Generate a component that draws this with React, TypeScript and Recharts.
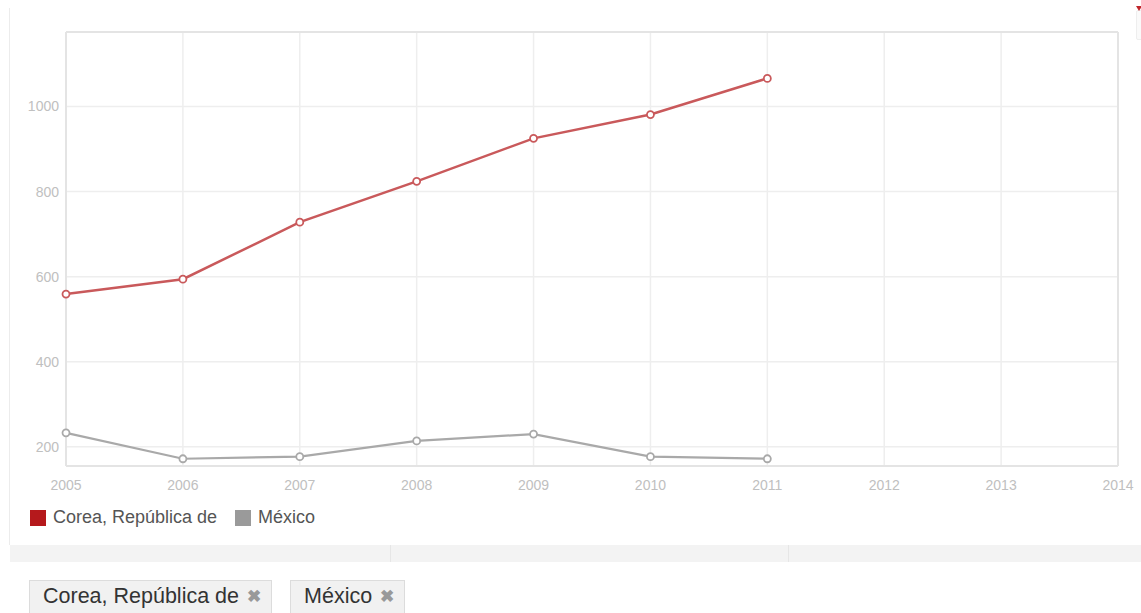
import React from 'react';
import {
  LineChart,
  Line,
  XAxis,
  YAxis,
  CartesianGrid,
  ReferenceLine,
} from 'recharts';

// Years on the x axis (ticks run past the data to 2014)
const years = [2005, 2006, 2007, 2008, 2009, 2010, 2011];
const yearTicks = [2005, 2006, 2007, 2008, 2009, 2010, 2011, 2012, 2013, 2014];
const valueTicks = [200, 400, 600, 800, 1000];

// Series values
const corea = [559, 594, 728, 824, 925, 981, 1066];
const mexico = [233, 172, 177, 214, 230, 177, 172];

const seriesNames = ['Corea, República de', 'México'];
const seriesColors = ['#c9595b', '#a9a9a9'];
const legendColors = ['#b5191c', '#9a9a9a'];

const data = years.map((year, i) => ({ year, corea: corea[i], mexico: mexico[i] }));

const FONT = '"Liberation Sans", Arial, sans-serif';
const Y_MIN = 155;
const Y_MAX = 1175;

function HollowDot(color: string) {
  return (props: { cx?: number; cy?: number; index?: number }) => {
    const { cx, cy, index } = props;
    if (cx == null || cy == null) return null;
    return (
      <circle key={index} cx={cx} cy={cy} r={3.5} fill="#fff" stroke={color} strokeWidth={1.8} />
    );
  };
}

export default function App() {
  const tick = { fontSize: 14, fill: '#c0c0c0', fontFamily: FONT };

  return (
    <div style={{ position: 'absolute', left: 0, top: 0, width: 1141, height: 613, background: '#fff', overflow: 'hidden', fontFamily: FONT }}>
      {/* faint frame on the left */}
      <div style={{ position: 'absolute', left: 9, top: 8, width: 1, height: 537, background: '#ececec' }} />

      {/* little control in the top right corner */}
      <div style={{ position: 'absolute', left: 1136, top: 10, width: 8, height: 28, border: '1px solid #eee', borderRadius: 2, background: '#fafafa' }} />
      <div style={{ position: 'absolute', left: 1136, top: 6, width: 0, height: 0, borderLeft: '3px solid transparent', borderRight: '3px solid transparent', borderTop: '5px solid #c0262b' }} />

      <div style={{ position: 'absolute', left: 0, top: 0 }}>
        <LineChart width={1141} height={500} data={data} margin={{ top: 32, right: 23, left: 10, bottom: 4 }}>
          <CartesianGrid stroke="#eeeeee" strokeWidth={1.5} />
          <XAxis
            dataKey="year"
            type="number"
            domain={[2005, 2014]}
            ticks={yearTicks}
            tick={tick}
            tickLine={false}
            axisLine={{ stroke: '#e4e4e4', strokeWidth: 2 }}
            height={30}
            tickMargin={8}
            interval={0}
          />
          <YAxis
            type="number"
            domain={[Y_MIN, Y_MAX]}
            ticks={valueTicks}
            tick={tick}
            tickLine={false}
            axisLine={{ stroke: '#e4e4e4', strokeWidth: 2 }}
            width={56}
            tickMargin={1}
            allowDataOverflow
          />
          <ReferenceLine y={Y_MAX} stroke="#e4e4e4" strokeWidth={2} />
          <ReferenceLine x={2014} stroke="#e4e4e4" strokeWidth={2} />
          <Line
            dataKey="mexico"
            stroke={seriesColors[1]}
            strokeWidth={2.2}
            dot={HollowDot(seriesColors[1])}
            activeDot={false}
            isAnimationActive={false}
          />
          <Line
            dataKey="corea"
            stroke={seriesColors[0]}
            strokeWidth={2.5}
            dot={HollowDot(seriesColors[0])}
            activeDot={false}
            isAnimationActive={false}
          />
        </LineChart>
      </div>

      {/* legend */}
      <div style={{ position: 'absolute', left: 30, top: 507, display: 'flex', alignItems: 'center', fontSize: 18, color: '#555' }}>
        {seriesNames.map((name, i) => (
          <div key={name} style={{ display: 'flex', alignItems: 'center', marginRight: 18 }}>
            <span style={{ display: 'inline-block', width: 16, height: 16, background: legendColors[i], marginRight: 7 }} />
            <span>{name}</span>
          </div>
        ))}
      </div>

      {/* grey band with dividers */}
      <div style={{ position: 'absolute', left: 10, top: 545, width: 1131, height: 17, background: '#f3f3f3' }} />
      <div style={{ position: 'absolute', left: 390, top: 545, width: 1, height: 17, background: '#e6e6e6' }} />
      <div style={{ position: 'absolute', left: 788, top: 545, width: 1, height: 17, background: '#e6e6e6' }} />

      {/* selected-country chips */}
      <div style={{ position: 'absolute', left: 29, top: 580, display: 'flex' }}>
        {seriesNames.map((name) => (
          <div
            key={name}
            style={{
              height: 36,
              padding: '0 10px 0 13px',
              marginRight: 18,
              background: '#f1f1f1',
              border: '1px solid #dcdcdc',
              display: 'flex',
              alignItems: 'center',
              paddingBottom: 4,
              boxSizing: 'border-box',
              fontSize: 21.5,
              color: '#333',
            }}
          >
            <span>{name}</span>
            <span style={{ color: '#999', fontSize: 17, marginLeft: 8, fontWeight: 'bold' }}>✖</span>
          </div>
        ))}
      </div>
    </div>
  );
}
